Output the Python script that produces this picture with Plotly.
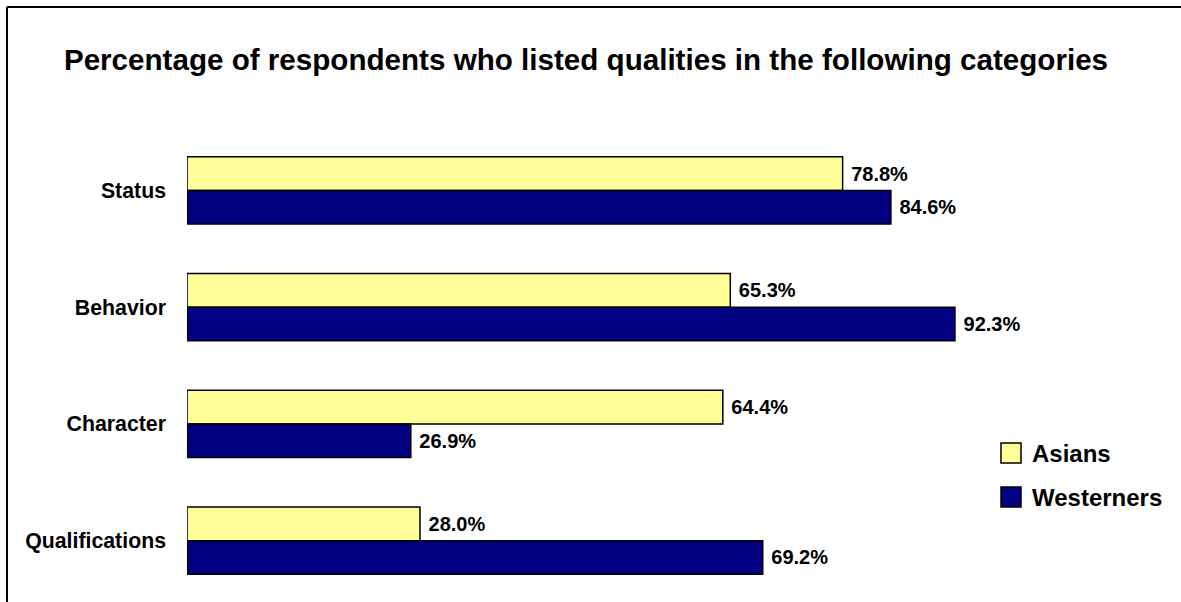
import plotly.graph_objects as go

categories = ["Status", "Behavior", "Character", "Qualifications"]
series_names = ["Asians", "Westerners"]
asians = [78.8, 65.3, 64.4, 28.0]
westerners = [84.6, 92.3, 26.9, 69.2]
colors = ["#FFFF99", "#000080"]
title_text = "Percentage of respondents who listed qualities in the following categories"

W, H = 1181, 602
ML, MR, MT, MB = 187, 162, 132, 3
PW, PH = W - ML - MR, H - MT - MB

FONT = "Liberation Sans, Arial, sans-serif"

fig = go.Figure()
for name, vals, col in zip(series_names, [asians, westerners], colors):
    fig.add_trace(go.Bar(
        y=categories, x=vals, name=name, orientation="h",
        marker=dict(color=col, line=dict(color="#000000", width=1.5)),
        text=vals, texttemplate="\u00a0<b>%{x:.1f}%</b>", textposition="outside",
        textfont=dict(family=FONT, size=20, color="#000000"),
        cliponaxis=False, showlegend=False, hoverinfo="skip",
    ))

def px2paper_x(px):
    return (px - ML) / PW

def px2paper_y(py):
    return (H - MB - py) / PH

shapes = [
    dict(type="line", xref="paper", yref="paper",
         x0=px2paper_x(7), x1=px2paper_x(W + 5), y0=px2paper_y(7), y1=px2paper_y(7),
         line=dict(color="#000000", width=2)),
    dict(type="line", xref="paper", yref="paper",
         x0=px2paper_x(7), x1=px2paper_x(7), y0=px2paper_y(7), y1=px2paper_y(H + 5),
         line=dict(color="#000000", width=2)),
]
annotations = []
leg_y = [453, 497]
for i, (name, col) in enumerate(zip(series_names, colors)):
    cy = leg_y[i]
    shapes.append(dict(type="rect", xref="paper", yref="paper",
                       x0=px2paper_x(1001), x1=px2paper_x(1021),
                       y0=px2paper_y(cy - 10), y1=px2paper_y(cy + 10),
                       fillcolor=col, line=dict(color="#000000", width=1.5)))
    annotations.append(dict(xref="paper", yref="paper", x=px2paper_x(1030), y=px2paper_y(cy),
                            xanchor="left", yanchor="middle", showarrow=False, text="<b>%s</b>" % name,
                            font=dict(family=FONT, size=24, color="#000000")))

fig.update_layout(
    width=W, height=H,
    margin=dict(l=ML, r=MR, t=MT, b=MB, pad=0),
    paper_bgcolor="#FFFFFF", plot_bgcolor="#FFFFFF",
    barmode="group", bargap=0.426, bargroupgap=0,
    title=dict(text="<b>%s</b>" % title_text, x=586 / W, xanchor="center",
               y=1 - 60 / H, yanchor="middle", yref="container",
               font=dict(family=FONT, size=29.6, color="#000000")),
    xaxis=dict(range=[0, 100], showgrid=False, showticklabels=False, zeroline=False,
               showline=False, ticks="", fixedrange=True),
    yaxis=dict(autorange="reversed", showgrid=False, showline=False, ticks="",
               ticklabelstandoff=20, tickfont=dict(family=FONT, size=21.3, color="#000000"),
               fixedrange=True),
    shapes=shapes, annotations=annotations,
)
fig.update_yaxes(tickvals=categories, ticktext=["<b>%s</b>" % c for c in categories])
fig.write_html("out.html", config={"displayModeBar": False},
               post_script="document.body.style.margin='0';document.body.style.padding='0';")
